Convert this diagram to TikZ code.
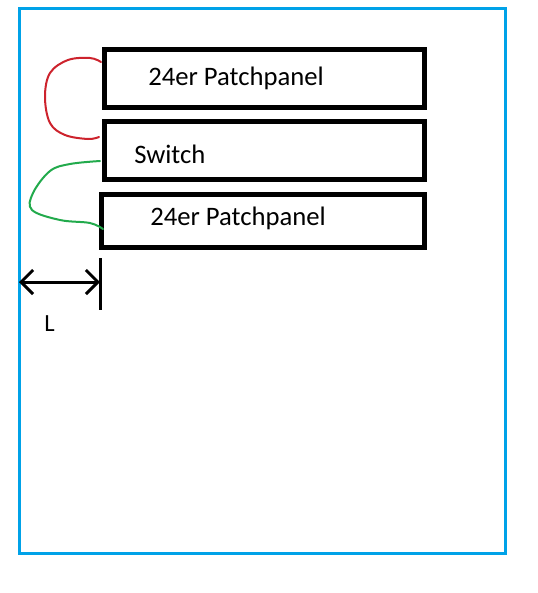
\documentclass[tikz,border=0pt]{standalone}
\usepackage{fontspec}
\setmainfont{Carlito}
\usetikzlibrary{arrows.meta}
\definecolor{rackblue}{RGB}{0,162,232}
\definecolor{cablered}{RGB}{205,35,45}
\definecolor{cablegreen}{RGB}{34,170,76}
\tikzset{
  unitbox/.style={draw, line width=3.75pt, inner sep=0pt, minimum width=240pt},
  unitlabel/.style={anchor=west, inner sep=0pt, font=\fontsize{20}{24}\selectfont},
  cable/.style={line width=1.5pt, line cap=round, line join=round}
}
\begin{document}
\begin{tikzpicture}[x=0.75pt,y=-0.75pt]
        \useasboundingbox (0,0) rectangle (538,593);
        % Rack frame
        \draw[rackblue, line width=2.25pt] (19,8) rectangle (505,553);
        % Units
        \node[unitbox, minimum height=43.5pt] (panelA) at (264.5,78.5) {};
        \node[unitbox, minimum height=43.5pt] (switch) at (264.5,150) {};
        \node[unitbox, minimum height=39.75pt, minimum width=241.9pt] (panelB) at (263.25,220.5) {};
        % Labels
        \node[unitlabel] (panelAtxt) at (148,78) {24er Patchpanel};
        \node[unitlabel] (switchtxt) at (134,154) {Switch};
        \node[unitlabel] (panelBtxt) at (150,218) {24er Patchpanel};
        % Cables
        \coordinate (redA) at (101,62);
        \coordinate (redB) at (99,137);
        \coordinate (greenA) at (100,161);
        \coordinate (greenB) at (103,229);
        \draw[cablered, cable] plot[smooth, tension=0.6] coordinates
          {(redA) (90,58) (68,60) (50,73) (45,97) (50,123) (65,135) (88,139) (redB)};
        \draw[cablegreen, cable] plot[smooth, tension=0.6] coordinates
          {(greenA) (70,164) (50,171) (33,193) (32,210) (60,220) (90,223) (greenB)};
        % Distance L
        \coordinate (frameL) at (19,282);
        \coordinate (unitL) at (100,282);
        \draw[line width=2.25pt] (100,258) -- (100,310);
        \draw[line width=2.25pt, {Straight Barb[length=9pt,width=18pt]}-{Straight Barb[length=9pt,width=18pt]}] (frameL) -- (unitL);
        \node[unitlabel, font=\fontsize{18.5}{22}\selectfont] (lenL) at (44,324) {L};
    \end{tikzpicture}
\end{document}
